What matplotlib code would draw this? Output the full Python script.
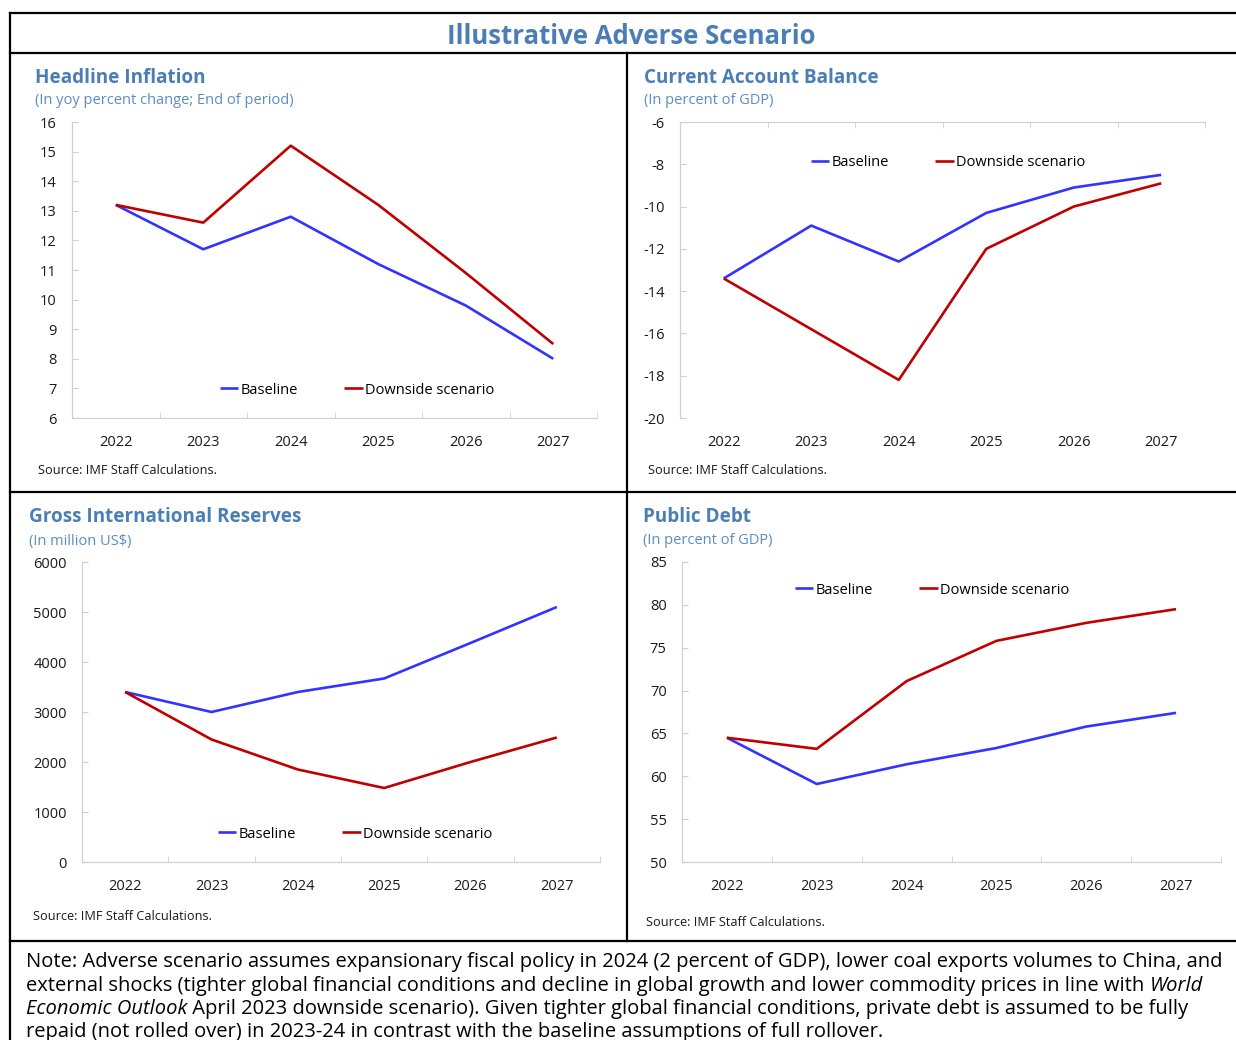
import matplotlib
matplotlib.use('Agg')
import matplotlib.pyplot as plt
from matplotlib.lines import Line2D
import numpy as np

plt.rcParams['font.family'] = ['Open Sans', 'Noto Sans', 'DejaVu Sans']
plt.rcParams['axes.unicode_minus'] = False

# === Data ===
years = ['2022', '2023', '2024', '2025', '2026', '2027']

infl_base = [13.2, 11.7, 12.8, 11.2, 9.8, 8.0]
infl_down = [13.2, 12.6, 15.2, 13.2, 10.9, 8.5]

ca_base = [-13.4, -10.9, -12.6, -10.3, -9.1, -8.5]
ca_down = [-13.4, -15.8, -18.2, -12.0, -10.0, -8.9]

res_base = [3400, 3000, 3400, 3670, 4380, 5100]
res_down = [3400, 2450, 1850, 1480, 2000, 2490]

debt_base = [64.5, 59.1, 61.4, 63.3, 65.8, 67.4]
debt_down = [64.5, 63.2, 71.1, 75.8, 77.9, 79.5]

BLUE = '#3333FF'
RED = '#C00000'
TITLE_C = '#4A7EB5'
SUB_C = '#5B8DC2'
SPINE_C = '#D0D0D0'
TXT_C = '#1A1A1A'

W, H = 1236, 1040
fig = plt.figure(figsize=(W / 100, H / 100), dpi=100)


def fx(x):
    return x / W


def fy(y):
    return 1 - y / H


def hline(y, x0, x1, lw=1.6):
    fig.add_artist(Line2D([fx(x0), fx(x1)], [fy(y), fy(y)], color='black', lw=lw))


def vline(x, y0, y1, lw=1.6):
    fig.add_artist(Line2D([fx(x), fx(x)], [fy(y0), fy(y1)], color='black', lw=lw))


def make_panel(box, base, down, ylim, ystep, top_axis, title, sub, tpos, spos, srcpos, legpos):
    l, r, t, b = box
    ax = fig.add_axes([fx(l), fy(b), fx(r) - fx(l), fy(t) - fy(b)])
    x = np.arange(len(years))
    ax.plot(x, base, color=BLUE, lw=1.9, label='Baseline', solid_capstyle='butt')
    ax.plot(x, down, color=RED, lw=1.9, label='Downside scenario', solid_capstyle='butt')
    ax.set_xlim(-0.5, len(years) - 0.5)
    ax.set_ylim(*ylim)
    ax.set_yticks(np.arange(ylim[0], ylim[1] + ystep / 2, ystep))
    ax.set_xticks(x)
    ax.set_xticklabels(years)
    ax.set_xticks(np.arange(0.5, len(years), 1.0), minor=True)
    for s in ['top', 'right', 'bottom', 'left']:
        ax.spines[s].set_color(SPINE_C)
        ax.spines[s].set_linewidth(0.9)
    ax.spines['right'].set_visible(False)
    if top_axis:
        ax.spines['bottom'].set_visible(False)
        ax.tick_params(axis='x', which='minor', top=True, bottom=False,
                       direction='in', length=4, color=SPINE_C)
    else:
        ax.spines['top'].set_visible(False)
        ax.tick_params(axis='x', which='minor', top=False, bottom=True,
                       direction='in', length=4, color=SPINE_C)
    ax.tick_params(axis='x', which='major', length=0, pad=12, labelsize=10.5, labelcolor=TXT_C)
    ax.tick_params(axis='y', which='major', direction='in', length=4, color=SPINE_C,
                   pad=11, labelsize=10.5, labelcolor=TXT_C)
    ax.patch.set_alpha(0)

    fig.text(fx(tpos[0]), fy(tpos[1] + 2), title, fontsize=13.6, fontweight='bold',
             color=TITLE_C, va='center', ha='left')
    fig.text(fx(spos[0]), fy(spos[1] + 2), sub, fontsize=10.5, color=SUB_C, va='center', ha='left')
    fig.text(fx(srcpos[0]), fy(srcpos[1] + 1), 'Source: IMF Staff Calculations.', fontsize=9.2,
             color=TXT_C, va='center', ha='left')
    ax.legend(loc='center left', bbox_to_anchor=(fx(legpos[0]), fy(legpos[1] + 1)),
              bbox_transform=fig.transFigure, ncol=2, frameon=False, fontsize=10.5,
              handlelength=1.25, handletextpad=0.15, columnspacing=3.2,
              borderpad=0, borderaxespad=0)
    return ax


make_panel((72, 597, 122, 418), infl_base, infl_down, (6, 16), 1, False,
           'Headline Inflation', '(In yoy percent change; End of period)',
           (35, 76), (35, 99), (38, 470), (220, 389))
make_panel((680, 1205, 122, 418), ca_base, ca_down, (-20, -6), 2, True,
           'Current Account Balance', '(In percent of GDP)',
           (644, 76), (644, 99), (648, 470), (811, 162))
make_panel((82, 600, 562, 862), res_base, res_down, (0, 6000), 1000, False,
           'Gross International Reserves', '(In million US$)',
           (29, 515), (29, 539), (33, 916), (218, 833))
make_panel((682, 1221, 562, 862), debt_base, debt_down, (50, 85), 5, False,
           'Public Debt', '(In percent of GDP)',
           (643, 515), (643, 539), (646, 921), (795, 589))

# === Frame ===
hline(13, 10, W)
hline(53, 10, W)
hline(492, 10, W)
hline(941, 10, W)
vline(10, 13, H)
vline(627, 53, 941)

fig.text(fx(631), fy(37), 'Illustrative Adverse Scenario', fontsize=18.5, fontweight='bold',
         color=TITLE_C, ha='center', va='center')

# === Note with italic pieces ===
renderer = fig.canvas.get_renderer()
note_lines = [
    [('Note: Adverse scenario assumes expansionary fiscal policy in 2024 (2 percent of GDP), '
      'lower coal exports volumes to China, and', 'normal')],
    [('external shocks (tighter global financial conditions and decline in global growth and '
      'lower commodity prices in line with ', 'normal'), ('World', 'italic')],
    [('Economic Outlook', 'italic'), (' April 2023 downside scenario). Given tighter global '
                                      'financial conditions, private debt is assumed to be fully',
                                      'normal')],
    [('repaid (not rolled over) in 2023-24 in contrast with the baseline assumptions of full rollover.',
      'normal')],
]
note_y = [962, 986, 1009, 1032]
for parts, yy in zip(note_lines, note_y):
    x0 = fx(26)
    for txt, style in parts:
        t = fig.text(x0, fy(yy), txt, fontsize=14.5, style=style, color='black',
                     va='center', ha='left')
        bb = t.get_window_extent(renderer=renderer)
        x0 = bb.x1 / W

fig.savefig('out.png', dpi=100)
